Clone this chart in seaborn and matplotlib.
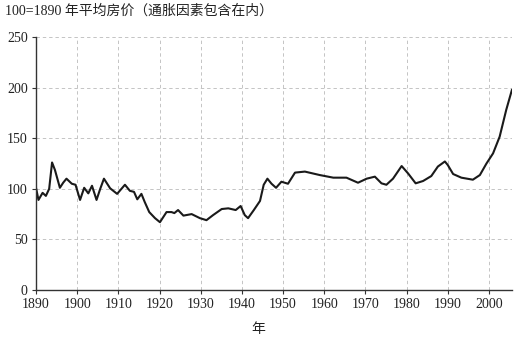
import matplotlib
matplotlib.use("Agg")
import matplotlib.pyplot as plt
import seaborn as sns
import pandas as pd

years = [1890.0, 1890.6, 1891.6, 1892.4, 1893.2, 1893.9, 1894.6, 1895.8, 1896.6, 1897.4, 1898.7,
         1899.6, 1900.7, 1901.7, 1902.7, 1903.6, 1904.7, 1905.6, 1906.5, 1908.0, 1909.7,
         1911.6, 1912.8, 1913.8, 1914.6, 1915.6, 1916.4, 1917.5, 1918.9, 1920.1, 1921.7,
         1922.9, 1923.6, 1924.5, 1925.8, 1927.8, 1929.8, 1931.4, 1933.0,
         1935.1, 1936.7, 1938.5, 1939.7, 1940.7, 1941.5, 1942.9, 1944.4, 1945.3, 1946.2,
         1947.2, 1948.3, 1949.6, 1951.2, 1952.9, 1955.3, 1958.9, 1962.2, 1965.4, 1968.2,
         1970.3, 1972.3, 1973.9, 1975.1, 1976.7, 1978.8, 1980.4, 1982.2, 1984.0, 1986.0,
         1987.6, 1989.3, 1990.0, 1991.3, 1993.3, 1996.1, 1997.8, 1999.4, 2001.0, 2002.6,
         2004.2, 2005.6]
index = [101, 89, 96, 93, 100, 126, 118.6, 101, 106, 110, 105,
         104, 89, 101, 95.5, 103, 89, 100, 110, 100.5, 95,
         104, 98, 97, 89.6, 95, 87, 77, 71, 67, 77,
         77, 76, 79, 73.5, 75, 71, 69, 74,
         80, 80.7, 79, 83, 74, 71, 79, 88, 104, 110,
         105, 101, 107, 105, 116, 117, 113.6, 111, 111, 106,
         110, 112, 105.4, 104, 110, 122.5, 115, 105.4, 107.7, 112.6,
         122, 127, 123.5, 114.6, 111, 109, 113.6, 125, 135, 151.5,
         178, 198]

title = "100=1890 年平均房价（通胀因素包含在内）"
xlabel = "年"
xticks = list(range(1890, 2001, 10))
yticks = [0, 50, 100, 150, 200, 250]

df = pd.DataFrame({"year": years, "index": index})

sns.set_style("white")
plt.rcParams["font.family"] = ["Liberation Serif", "Noto Sans CJK SC", "DejaVu Sans"]

fig = plt.figure(figsize=(5.15, 3.37), dpi=100)
ax = fig.add_axes([36 / 515, 1 - 290 / 337, 476 / 515, 253 / 337])

sns.lineplot(data=df, x="year", y="index", ax=ax, color="#1a1a1a", linewidth=1.5)

ax.set_xlim(1890, 2005.6)
ax.set_ylim(0, 250)
ax.set_xticks(xticks)
ax.set_yticks(yticks)
ax.grid(True, linestyle=(0, (3.5, 3)), color="#c4c4c4", linewidth=0.7)
for s in ["top", "right"]:
    ax.spines[s].set_visible(False)
for s in ["left", "bottom"]:
    ax.spines[s].set_color("#333333")
    ax.spines[s].set_linewidth(1.0)
ax.tick_params(axis="both", direction="out", length=3, width=0.8, color="#333333",
               labelsize=10, labelcolor="#222222", pad=3, left=True, bottom=True)
for lbl in ax.get_xticklabels() + ax.get_yticklabels():
    lbl.set_family(["Liberation Serif"])

ax.set_xlabel(xlabel, fontsize=10, family=["Noto Sans CJK SC"], color="#222222")
ax.xaxis.set_label_coords((258 - 36) / 476, -0.125)
ax.set_ylabel("")

fig.text(5 / 515, 1 - 11 / 337, title, fontsize=10, va="center", ha="left",
         family=["Liberation Serif", "Noto Sans CJK SC"], color="#222222")

fig.savefig("out.png", dpi=100)
